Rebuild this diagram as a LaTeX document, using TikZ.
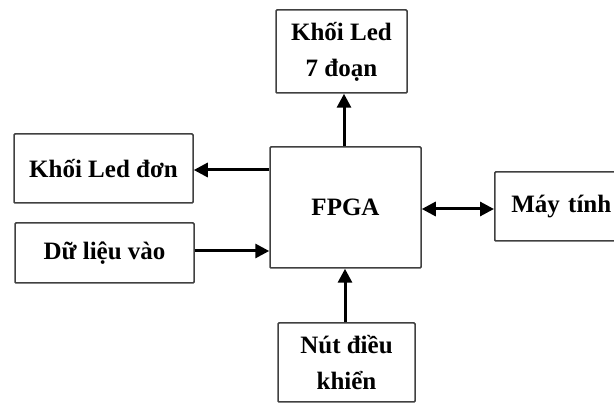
\documentclass[tikz,border=0pt]{standalone}
\usepackage{fontspec}
\setmainfont{Liberation Serif}
\usetikzlibrary{arrows.meta}

\tikzset{
  block/.style={draw=black!75, line width=1.5pt, rounded corners=1pt,
    fill=white, align=center, inner sep=0pt,
    font=\bfseries\fontsize{25}{36}\selectfont},
  arr/.style={line width=3pt, -{Triangle[length=14pt,width=14pt]}},
  darr/.style={line width=3pt, {Triangle[length=14pt,width=14pt]}-{Triangle[length=14pt,width=14pt]}}
}

\begin{document}
\begin{tikzpicture}[x=1pt, y=-1pt]

    % Fix the page to the size of the reference
    \useasboundingbox (0,0) rectangle (614,403);
    \clip (0,0) rectangle (614,403);

    % Central block
    \node[block, minimum width=151pt, minimum height=121pt] (fpga) at (345.5,207.5) {FPGA};

    % Seven segment display block at the top
    \node[block, minimum width=131pt, minimum height=83pt] (seg) at (341.5,51.5) {Khối Led\\7 đoạn};

    % Single LED block on the left
    \node[block, minimum width=179pt, minimum height=69pt] (led) at (103.5,168.5) {Khối Led đơn};

    % Data input block on the left
    \node[block, minimum width=179pt, minimum height=60pt] (data) at (104.5,253) {Dữ liệu vào};

    % Computer block on the right (cut by the page edge)
    \node[block, minimum width=135pt, minimum height=69pt, anchor=west,
      text width=120pt, align=left] (pc) at (494,206.5) {\hspace*{9pt}Máy tính};

    % Control buttons block at the bottom
    \node[block, minimum width=137pt, minimum height=79pt] (btn) at (346.5,362.5) {Nút điều\\khiển};

    % Connectors
    \draw[arr] (fpga.north -| 344,0) -- (seg.south -| 344,0);
    \draw[arr] (fpga.west |- 0,170) -- (led.east |- 0,170);
    \draw[arr] (data.east |- 0,251) -- (fpga.west |- 0,251);
    \draw[darr] (fpga.east |- 0,209) -- (pc.west |- 0,209);
    \draw[arr] (btn.north -| 345,0) -- (fpga.south -| 345,0);

\end{tikzpicture}
\end{document}
